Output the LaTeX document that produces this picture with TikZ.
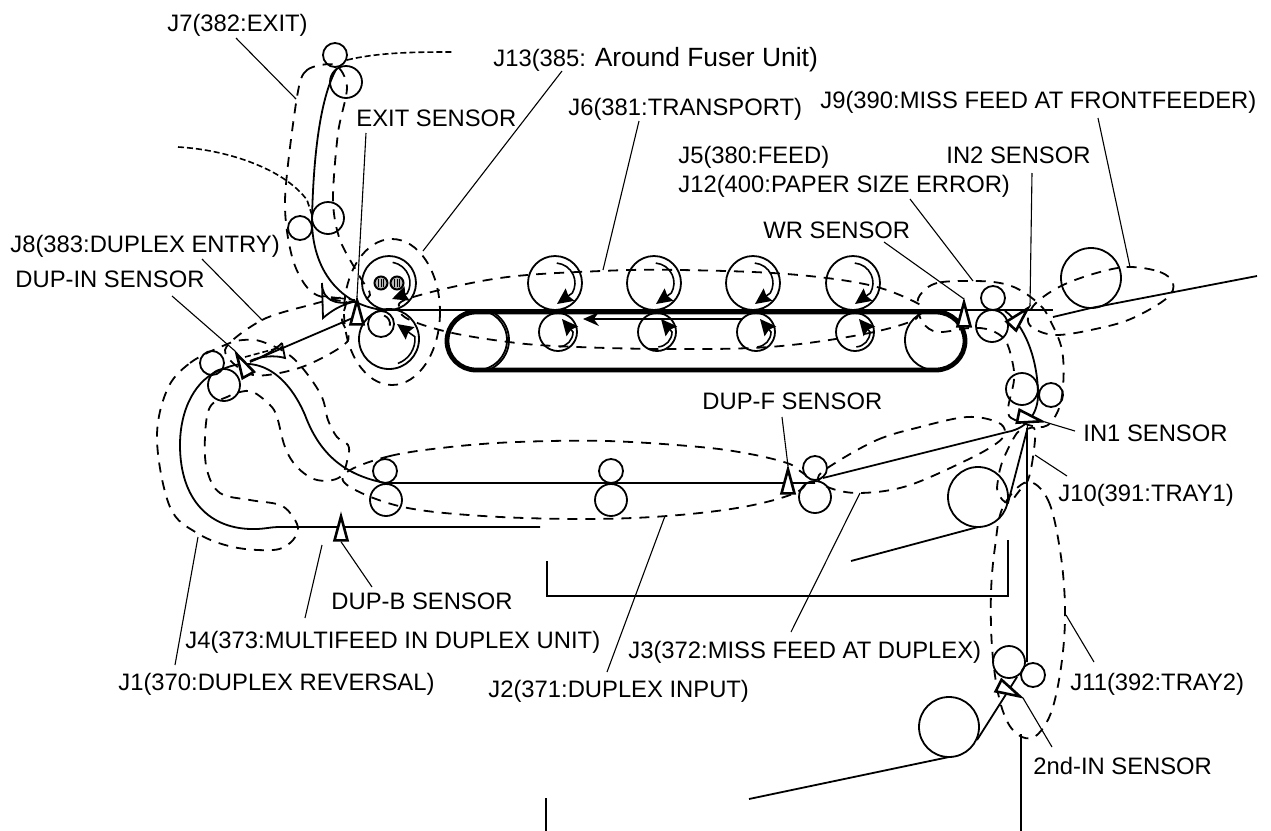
\documentclass[tikz,border=0pt]{standalone}
\usepackage{fontspec}
\setmainfont{Liberation Sans}
\usetikzlibrary{arrows.meta,shapes.geometric,shapes.misc,calc}
\tikzset{
  roller/.style={circle,draw,line width=0.9pt,inner sep=0pt,minimum size=#1pt},
  heat/.style={circle,draw,line width=1pt,fill=gray!55,inner sep=0pt,minimum size=6.5pt},
  sensor/.style={isosceles triangle,isosceles triangle stretches,draw,line width=1.3pt,fill=white,inner sep=0pt,minimum width=6.5pt,minimum height=12pt,anchor=apex},
  beltbox/.style={rounded rectangle,draw,line width=2.4pt,inner sep=0pt,minimum width=259pt,minimum height=29pt},
  feed/.style={line width=0.9pt},
  zone/.style={line width=0.9pt,dash pattern=on 5pt off 4pt},
  fine/.style={line width=0.8pt,dash pattern=on 3pt off 1.5pt},
  lead/.style={line width=0.55pt},
  spin/.style={line width=0.8pt,-{Stealth[length=8pt,width=7.5pt,inset=1pt]}},
  lbl/.style={anchor=base west,inner sep=0pt,font=\fontsize{11.9}{13}\selectfont},
}
\begin{document}
\begin{tikzpicture}[x=0.5pt,y=-0.5pt]
\useasboundingbox (0,0) rectangle (1271,831);
% belt and rollers
\node[beltbox] (belt) at (706,341) {};
\node[roller=30] (rBL) at (477,340) {};
\node[roller=30] (rBR) at (935,340) {};
\foreach \n/\x in {1/555,2/654,3/753,4/853} \node[roller=27] (rU\n) at (\x,283) {};
\foreach \n/\x in {1/558,2/657,3/756,4/855} \node[roller=19] (rL\n) at (\x,332) {};
\foreach \n/\x/\y in {a/335/55,b/300/228,c/993/298,d/1051/395,e/385/471,f/611/471,g/815/468,h/1033/675} \node[roller=12] (rS\n) at (\x,\y) {};
\foreach \n/\x/\y in {a/346/82,b/328/218,c/992/326,d/1022/389,e/386/500,f/611/500,g/815/497,h/1009/662,i/224/385} \node[roller=16] (rM\n) at (\x,\y) {};
\node[roller=12] (rDup) at (212,363) {};
\node[roller=27] (rFuA) at (389,283) {};
\node[roller=30] (rFuB) at (389,339) {};
\node[roller=13] (rFuC) at (381,324) {};
\node[heat] (hA) at (381,283) {};
\node[heat] (hB) at (397,283) {};
\foreach \n in {hA,hB} \foreach \d in {-2.5,0,2.5} \draw[line width=0.4pt] ($(\n)+(\d,-4)$) -- ($(\n)+(\d,4)$);
\node[roller=30] (rFront) at (1091,278) {};
\node[roller=30] (rTrayA) at (978,497) {};
\node[roller=30] (rTrayB) at (949,727) {};
% rotation marks
\foreach \n in {rU1,rU2,rU3,rU4} \draw[spin] ($(\n)+(-85:20)$) arc[start angle=-85,end angle=30,radius=20] -- ($(\n)+(2,21)$);
\foreach \n in {rL1,rL2,rL3,rL4} \draw[spin] ($(\n)+(85:15)$) arc[start angle=85,end angle=0,radius=15] -- ($(\n)+(4,-13)$);
\draw[spin] ($(rFuA)+(-80:21)$) arc[start angle=-80,end angle=30,radius=21] -- ($(rFuA)+(3,16)$);
\draw[spin] ($(rFuB)+(70:26)$) arc[start angle=70,end angle=-5,radius=26] -- ($(rFuB)+(8,-15)$);
\draw[feed] ($(rFuC)+(-70:9)$) arc[start angle=-70,end angle=10,radius=9];
\draw[feed] ($(rBL)+(-65:32)$) arc[start angle=-65,end angle=65,radius=32];
% paper path
\draw[feed] (383,310) -- (1053,310);
\draw[feed,-{Stealth[length=8pt,width=7pt]}] (rL3.north west |- 0,319) -- (583,319);
\draw[feed] (337,68) .. controls (318,100) and (313,170) .. (312,220) .. controls (312,270) and (340,305) .. (383,310);
\draw[feed] (250,362) -- (355,317);
\draw[feed] (223,369) .. controls (262,352) and (290,380) .. (305,415) .. controls (320,455) and (345,475) .. (385,483) -- (815,483);
\draw[feed] (823,478) -- (1007,432) .. controls (1030,428) and (1038,410) .. (1038,395) .. controls (1038,360) and (1025,325) .. (1005,311);
\draw[feed] (223,369) .. controls (195,378) and (180,410) .. (180,445) .. controls (180,500) and (210,530) .. (255,529) .. controls (265,529) and (270,527) .. (280,527) -- (540,527);
\draw[feed] (1053,317) -- (1091,308) -- (1257,276);
\draw[feed] (851,561) -- (978,527);
\draw[feed] (1008,503) -- (1027,430) -- (1027,662);
\draw[feed] (749,799) -- (949,757);
\draw[feed] (977,740) -- (1017,677);
\draw[feed] (1021,734) -- (1021,831);
\draw[feed] (547,561) -- (547,596) -- (1008,596) -- (1008,540);
\draw[feed] (546,798) -- (546,831);
% jam zones
\draw[zone] plot[smooth cycle] coordinates {(335,65) (307,70) (297,97) (285,200) (293,260) (313,293) (353,302) (370,295) (360,277) (340,240) (333,200) (338,133) (347,87)};
\draw[zone] (392,312) ellipse (48 and 73);
\draw[zone] plot[smooth cycle] coordinates {(225,350) (262,320) (310,305) (345,298) (342,320) (347,342) (302,367) (253,375)};
\draw[zone] plot[smooth cycle,tension=0.6] coordinates {(167,390) (190,363) (225,345) (243,340) (263,342) (293,358) (320,393) (328,420) (337,437) (348,445) (348,457) (340,477) (317,480) (297,467) (285,447) (277,417) (270,405) (253,392) (240,392) (227,397) (210,407) (205,437) (207,470) (220,493) (250,500) (280,505) (293,517) (298,530) (290,543) (273,550) (233,547) (197,533) (170,507) (157,440)};
\draw[zone] plot[smooth cycle,tension=0.6] coordinates {(347,472) (390,456) (450,447) (517,442) (607,441) (700,447) (750,454) (787,463) (800,471) (807,479) (795,493) (743,507) (667,516) (583,519) (483,516) (403,507) (350,487)};
\draw[zone] plot[smooth cycle,tension=0.6] coordinates {(832,465) (877,440) (920,427) (967,417) (997,422) (1005,432) (997,443) (967,460) (907,486) (860,493) (830,488) (818,478)};
\draw[zone] plot[smooth cycle,tension=0.6] coordinates {(973,281) (937,283) (920,295) (918,308) (923,323) (938,332) (970,328) (990,330) (1005,340) (1012,360) (1014,380) (1008,410) (1015,420) (1043,427) (1057,413) (1063,387) (1062,350) (1050,320) (1040,305) (1020,290) (1000,283)};
\draw[zone] plot[smooth cycle,tension=0.6] coordinates {(1130,267) (1160,272) (1173,283) (1167,298) (1133,318) (1100,328) (1057,335) (1033,328) (1028,317) (1037,302) (1063,285) (1100,272)};
\draw[zone] plot[smooth cycle,tension=0.6] coordinates {(601,271) (680,270) (787,274) (869,285) (917,303) (918,310) (912,321) (859,335) (769,347) (662,349) (555,346) (501,341) (448,332) (410,320) (400,310) (410,298) (500,278)};
\draw[zone] plot[smooth cycle,tension=0.6] coordinates {(1035,430) (1033,457) (1028,480) (1020,490) (1008,503) (998,493) (998,480) (1003,460) (1017,433) (1027,429)};
\draw[zone] plot[smooth cycle,tension=0.6] coordinates {(1027,482) (1048,500) (1060,550) (1065,607) (1062,660) (1052,710) (1037,735) (1022,737) (1008,723) (998,693) (992,647) (991,593) (995,547) (1003,507)};
\draw[fine] (347,60) .. controls (380,52) and (420,52) .. (452,52);
\draw[fine] (178,147) .. controls (230,150) and (285,170) .. (307,200) -- (312,215);
\draw[fine] (245,357) -- (282,347);
\draw[fine] (322,296) -- (355,300);
\draw[feed] (322,283) .. controls (322,300) and (335,305) .. (353,302) .. controls (340,305) and (330,312) .. (323,318) -- cycle;
\draw[feed] (282,343) -- (285,358) .. controls (275,355) and (260,356) .. (250,361) .. controls (262,358) and (275,350) .. (282,343);
% sensors
\node[sensor,rotate=90] (sExit) at (357,297) {};
\node[sensor,rotate=90] (sWR) at (964,299) {};
\node[sensor,rotate=47] (sIn2) at (1030,306) {};
\node[sensor,rotate=-12] (sIn1) at (1045,422) {};
\node[sensor,rotate=-27] (s2nd) at (1023,698) {};
\node[sensor,rotate=119] (sDupIn) at (235,351) {};
\node[sensor,rotate=90] (sDupF) at (788,466) {};
\node[sensor,rotate=90] (sDupB) at (341,513) {};
% labels
\node[lbl] (tJ7) at (167,31) {J7(382:EXIT)};
\node[lbl] (tJ13) at (493,66) {J13(385: {\fontsize{13.2}{13}\selectfont Around Fuser Unit)}};
\node[lbl] (tExit) at (356,126) {EXIT SENSOR};
\node[lbl] (tJ6) at (568,115) {J6(381:TRANSPORT)};
\node[lbl] (tJ9) at (820,108) {J9(390:MISS FEED AT FRONTFEEDER)};
\node[lbl] (tJ5) at (678,163) {J5(380:FEED)};
\node[lbl] (tJ12) at (678,192) {J12(400:PAPER SIZE ERROR)};
\node[lbl] (tIn2) at (946,163) {IN2 SENSOR};
\node[lbl] (tWR) at (763,238) {WR SENSOR};
\node[lbl] (tJ8) at (10,252) {J8(383:DUPLEX ENTRY)};
\node[lbl] (tDupIn) at (15,287) {DUP-IN SENSOR};
\node[lbl] (tDupF) at (702,409) {DUP-F SENSOR};
\node[lbl] (tIn1) at (1083,441) {IN1 SENSOR};
\node[lbl] (tJ10) at (1058,501) {J10(391:TRAY1)};
\node[lbl] (tDupB) at (331,609) {DUP-B SENSOR};
\node[lbl] (tJ4) at (185,648) {J4(373:MULTIFEED IN DUPLEX UNIT)};
\node[lbl] (tJ3) at (628,658) {J3(372:MISS FEED AT DUPLEX)};
\node[lbl] (tJ1) at (118,690) {J1(370:DUPLEX REVERSAL)};
\node[lbl] (tJ11) at (1070,690) {J11(392:TRAY2)};
\node[lbl] (tJ2) at (488,697) {J2(371:DUPLEX INPUT)};
\node[lbl] (t2nd) at (1033,774) {2nd-IN SENSOR};
% leaders
\foreach \n/\x/\y in {J7/296/99,J13/423/251,J6/603/270,J12/973/281,J9/1130/267,J10/1035/455,J11/1066/615,J8/262/320,J1/198/537,J4/322/545,J2/665/516,J3/860/493} \coordinate (e\n) at (\x,\y);
\draw[lead] ($(tJ7.base west)+(69,7)$) -- (eJ7);
\draw[lead] ($(tJ13.base west)+(69,5)$) -- (eJ13);
\draw[lead] ($(tExit.base west)+(10,7)$) -- (sExit.apex);
\draw[lead] ($(tJ6.base west)+(71,6)$) -- (eJ6);
\draw[lead] ($(tJ9.base west)+(278,10)$) -- (eJ9);
\draw[lead] ($(tJ12.base west)+(232,7)$) -- (eJ12);
\draw[lead] ($(tIn2.base west)+(86,10)$) -- (sIn2.apex);
\draw[lead] ($(tWR.base west)+(121,4)$) -- (sWR.apex);
\draw[lead] ($(tJ8.base west)+(192,7)$) -- (eJ8);
\draw[lead] ($(tDupIn.base west)+(157,9)$) -- (sDupIn.apex);
\draw[lead] ($(tDupF.base west)+(80,8)$) -- (sDupF.apex);
\draw[lead] ($(tIn1.base west)+(-8,-10)$) -- (sIn1.apex);
\draw[lead] ($(tJ10.base west)+(9,-25)$) -- (eJ10);
\draw[lead] ($(tDupB.base west)+(41,-22)$) -- (sDupB.lower side);
\draw[lead] ($(tJ4.base west)+(120,-30)$) -- (eJ4);
\draw[lead] ($(tJ3.base west)+(163,-26)$) -- (eJ3);
\draw[lead] ($(tJ1.base west)+(57,-25)$) -- (eJ1);
\draw[lead] ($(tJ11.base west)+(24,-28)$) -- (eJ11);
\draw[lead] ($(tJ2.base west)+(119,-25)$) -- (eJ2);
\draw[lead] ($(t2nd.base west)+(19,-27)$) -- (s2nd.apex);
\end{tikzpicture}
\end{document}
